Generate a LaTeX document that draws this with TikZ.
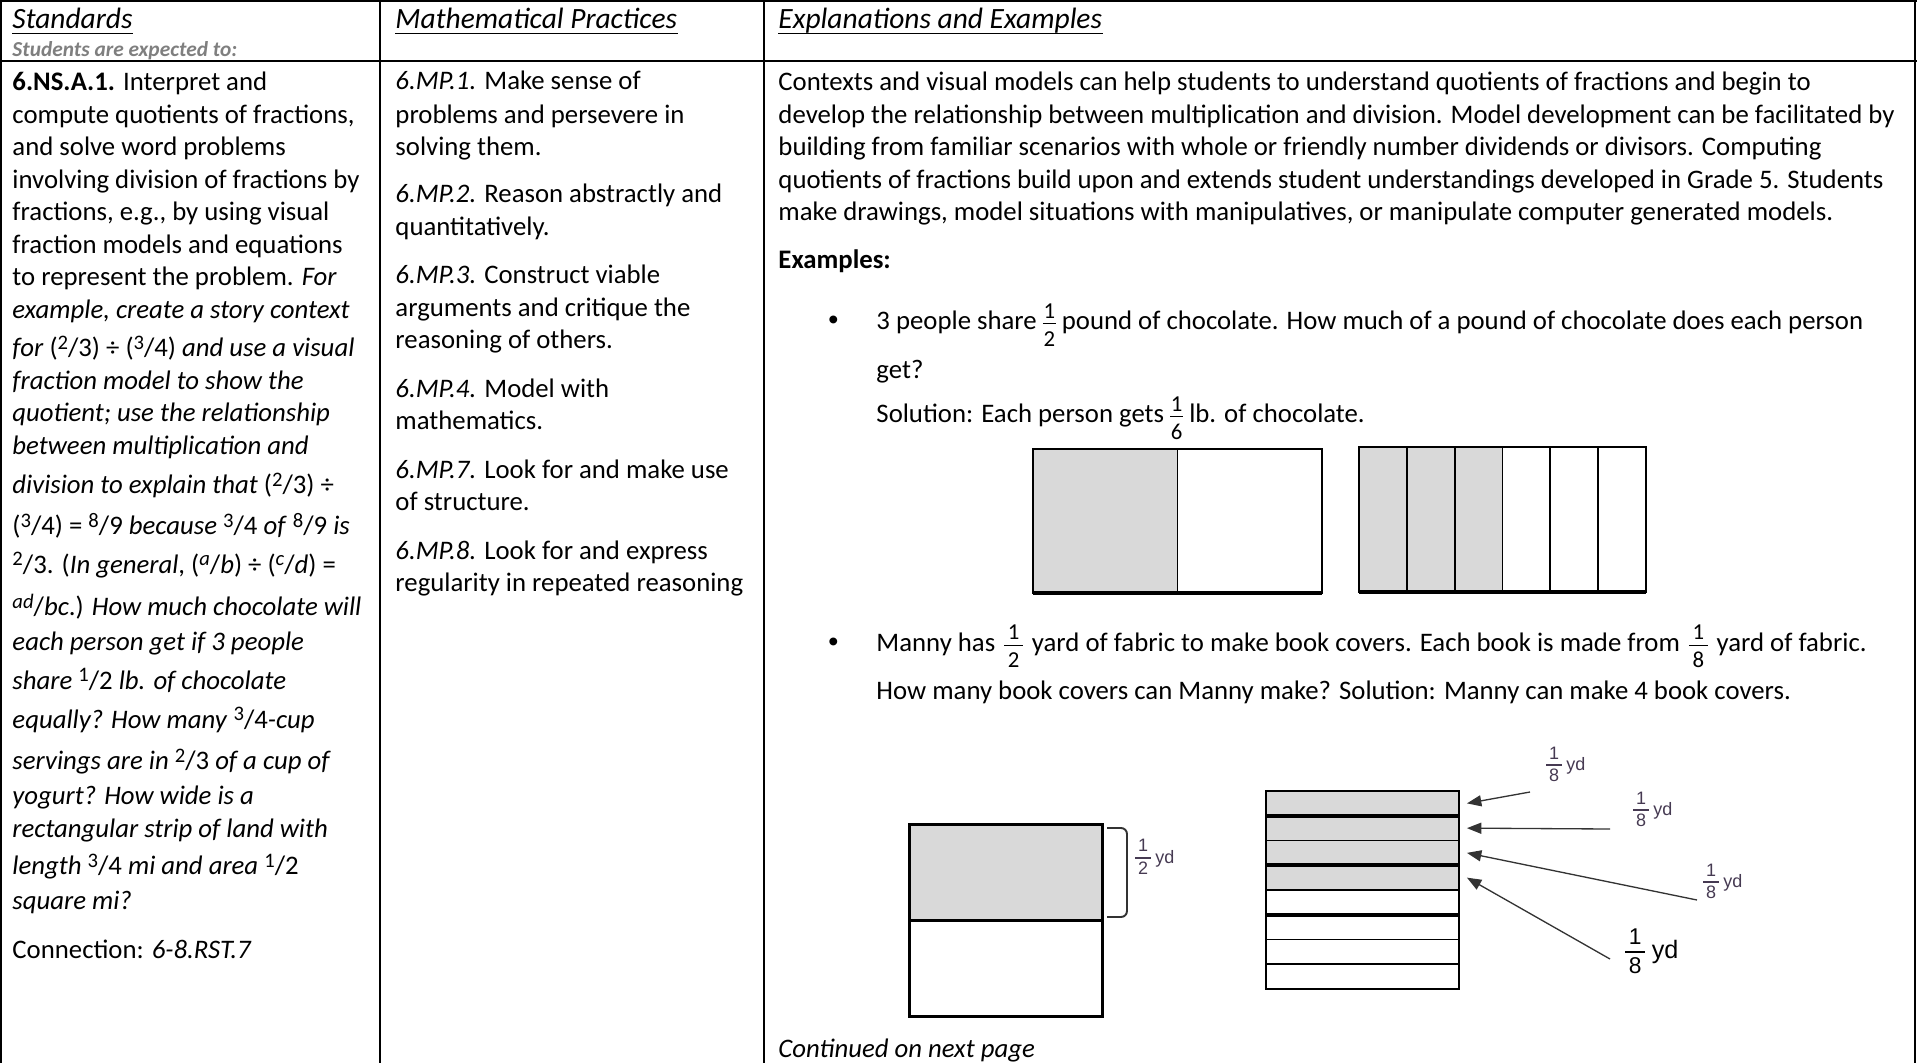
\documentclass[tikz,border=0pt]{standalone}
\usepackage{fontspec}
\usepackage{amsmath}
\usetikzlibrary{arrows.meta,positioning}
\setmainfont{Carlito}
\newfontfamily\lblfont{Liberation Sans}
\newfontfamily\bulfont{Liberation Sans}
\definecolor{shade}{RGB}{217,217,217}
\definecolor{subgray}{RGB}{127,127,127}
\definecolor{lblink}{RGB}{70,58,82}

\newcommand{\body}{\fontsize{11.15}{13.5}\selectfont}
\newcommand{\head}{\fontsize{12.27}{14}\selectfont}
% inline fractions of the standards text
\newcommand{\sups}[1]{\raisebox{3.2pt}{\fontsize{8.6}{8.6}\selectfont #1}}
\newcommand{\fr}[2]{\textup{\sups{#1}/#2}}
\newcommand{\lfr}[2]{\sups{\textit{#1}}/\textit{#2}}
% stacked fraction in the examples
\newcommand{\vf}[3][1pt]{%
  \begingroup\fontsize{9.5}{10}\selectfont
  \setbox0\hbox{#2}\setbox2\hbox{#3}%
  \dimen0=\wd0 \ifdim\wd2>\dimen0 \dimen0=\wd2\fi
  \advance\dimen0 by #1%
  \hbox{\rlap{\raise4.8pt\hbox to\dimen0{\hss\box0\hss}}%
    \rlap{\raise2.3pt\hbox{\vrule width\dimen0 height0.45pt depth0pt}}%
    \lower6.8pt\hbox to\dimen0{\hss\box2\hss}}%
  \endgroup}
% little fraction of the fabric labels
\newcommand{\ydf}[2]{%
  \setbox0\hbox{#1}\setbox2\hbox{#2}%
  \dimen0=\wd2 \advance\dimen0 by 0.3em
  \rlap{\raise0.32em\hbox to\dimen0{\hss\box0\hss}}%
  \rlap{\lower0.05em\hbox{\vrule width\dimen0 height0.1em depth0pt}}%
  \lower0.93em\hbox to\dimen0{\hss\box2\hss}}

\begin{document}
\begin{tikzpicture}[x=0.41667pt, y=-0.41667pt,
  txt/.style={anchor=base west, inner sep=0pt, font=\body},
  hd/.style={anchor=base west, inner sep=0pt, font=\head\itshape},
  bul/.style={anchor=base west, inner sep=0pt, font=\bulfont\fontsize{12}{12}\selectfont},
  rule/.style={line width=0.85pt},
  uline/.style={line width=0.7pt},
  cell/.style={draw, inner sep=0pt, outer sep=0pt, line width=0.45pt},
  ydl/.style={anchor=base west, inner sep=0pt, text=lblink, font=\lblfont\fontsize{7.5}{7.5}\selectfont},
  ptr/.style={-{Triangle[length=6pt,width=4.6pt]}, line width=0.55pt, draw=black!80},
]
\useasboundingbox (0,0) rectangle (1917,1063);

% table rules
\draw[rule] (0,1) -- (1917,1);
\draw[rule] (0,61) -- (1917,61);
\draw[rule] (1,0) -- (1,1063);
\draw[rule] (380,0) -- (380,1063);
\draw[rule] (764,0) -- (764,1063);
\draw[rule] (1915,0) -- (1915,1063);

\begin{scope}[yshift=-0.8pt]
% headings
\node[hd] (hstd) at (12,27) {Standards};
\node[hd] (hmp) at (395,27) {Mathematical Practices};
\node[hd] (hex) at (778,27) {Explanations and Examples};
\foreach \h in {hstd,hmp,hex}
  \draw[uline] ([yshift=-1.9pt]\h.base west) -- ([yshift=-1.9pt]\h.base east);
\node[anchor=base west, inner sep=0pt, text=subgray, font=\fontsize{8.9}{9}\selectfont\bfseries\itshape] (hsub) at (12,55) {Students are expected to:};

% standards column
\node[txt] (st1) at (12,89) {\textbf{6.NS.A.1.} Interpret and};
\node[txt] (st2) at (12,121.5) {compute quotients of fractions,};
\node[txt] (st3) at (12,154) {and solve word problems};
\node[txt] (st4) at (12,186.5) {involving division of fractions by};
\node[txt] (st5) at (12,219) {fractions, e.g., by using visual};
\node[txt] (st6) at (12,251.5) {fraction models and equations};
\node[txt] (st7) at (12,284) {to represent the problem. \textit{For}};
\node[txt] (st8) at (12,316.5) {\textit{example, create a story context}};
\node[txt] (st9) at (12,355) {\textit{for} (\fr{2}{3}) ÷ (\fr{3}{4}) \textit{and use a visual}};
\node[txt] (st10) at (12,388) {\textit{fraction model to show the}};
\node[txt] (st11) at (12,420) {\textit{quotient; use the relationship}};
\node[txt] (st12) at (12,453) {\textit{between multiplication and}};
\node[txt] (st13) at (12,492) {\textit{division to explain that} (\fr{2}{3}) ÷};
\node[txt] (st14) at (12,533) {(\fr{3}{4}) = \fr{8}{9} \textit{because} \fr{3}{4} \textit{of} \fr{8}{9} \textit{is}};
\node[txt] (st15) at (12,571.5) {\fr{2}{3}. (\textit{In general},\/ (\lfr{a}{b}) ÷ (\lfr{c}{d}) =};
\node[txt] (st16) at (12,614) {\lfr{ad}{bc}.) \textit{How much chocolate will}};
\node[txt] (st17) at (12,649) {\textit{each person get if 3 people}};
\node[txt] (st18) at (12,687.5) {\textit{share} \fr{1}{2} \textit{lb. of chocolate}};
\node[txt] (st19) at (12,726.5) {\textit{equally? How many} \fr{3}{4}\textit{-cup}};
\node[txt] (st20) at (12,768) {\textit{servings are in} \fr{2}{3} \textit{of a cup of}};
\node[txt] (st21) at (12,803) {\textit{yogurt? How wide is a}};
\node[txt] (st22) at (12,836) {\textit{rectangular strip of land with}};
\node[txt] (st23) at (12,873) {\textit{length} \fr{3}{4} \textit{mi and area} \fr{1}{2}};
\node[txt] (st24) at (12,908) {\textit{square mi?}};
\node[txt] (st25) at (12,956.5) {Connection: \textit{6-8.RST.7}};

% practices column
\node[txt] (mp1) at (395,88) {\textit{6.MP.1.} Make sense of};
\node[txt] (mp2) at (395,121.5) {problems and persevere in};
\node[txt] (mp3) at (395,154) {solving them.};
\node[txt] (mp4) at (395,201) {\textit{6.MP.2.} Reason abstractly and};
\node[txt] (mp5) at (395,234) {quantitatively.};
\node[txt] (mp6) at (395,282) {\textit{6.MP.3.} Construct viable};
\node[txt] (mp7) at (395,314.5) {arguments and critique the};
\node[txt] (mp8) at (395,347) {reasoning of others.};
\node[txt] (mp9) at (395,395.5) {\textit{6.MP.4.} Model with};
\node[txt] (mp10) at (395,428) {mathematics.};
\node[txt] (mp11) at (395,476.5) {\textit{6.MP.7.} Look for and make use};
\node[txt] (mp12) at (395,509) {of structure.};
\node[txt] (mp13) at (395,557.5) {\textit{6.MP.8.} Look for and express};
\node[txt] (mp14) at (395,590) {regularity in repeated reasoning};

% explanations column
\node[txt] (ex1) at (778,88.5) {Contexts and visual models can help students to understand quotients of fractions and begin to};
\node[txt] (ex2) at (778,121.5) {develop the relationship between multiplication and division. Model development can be facilitated by};
\node[txt] (ex3) at (778,154) {building from familiar scenarios with whole or friendly number dividends or divisors. Computing};
\node[txt] (ex4) at (778,186.5) {quotients of fractions build upon and extends student understandings developed in Grade 5. Students};
\node[txt] (ex5) at (778,219) {make drawings, model situations with manipulatives, or manipulate computer generated models.};
\node[txt] (exh) at (778,266.5) {\textbf{Examples:}};

\node[bul] (b1) at (828,328) {•};
\node[txt] (ch1) at (876,328) {3 people share \vf[0.6pt]{1}{2} pound of chocolate. How much of a pound of chocolate does each person};
\node[txt] (ch2) at (876,377) {get?};
\node[txt] (ch3) at (876,421) {Solution: Each person gets \vf[0.6pt]{1}{6} lb. of chocolate.};

\node[bul] (b2) at (828,649.5) {•};
\node[txt] (fb1) at (876,649.5) {Manny has \kern1.2pt\vf[3pt]{1}{2}\kern1.2pt{} yard of fabric to make book covers. Each book is made from \kern1.2pt\vf[3pt]{1}{8}\kern1.2pt{} yard of fabric.};
\node[txt] (fb2) at (876,697.5) {How many book covers can Manny make? Solution: Manny can make 4 book covers.};

\node[txt] (cont) at (778,1056) {\textit{Continued on next page}};
\end{scope}

% chocolate: halves and sixths
\node[cell, fill=shade, minimum width=60.21pt, minimum height=60pt] (c1) at (1105.25,521) {};
\node[cell, minimum width=60.21pt, minimum height=60pt, right=0pt of c1] (c2) {};
\draw[line width=0.85pt] (c1.north west) rectangle (c2.south east);
\draw[line width=1.7pt] (c1.south west) -- (c2.south east);

\foreach \i in {1,...,6}{
  \ifnum\i<4 \def\fc{shade}\else\def\fc{white}\fi
  \node[cell, fill=\fc, line width=0.7pt, minimum width=19.93pt, minimum height=60.42pt] (d\i) at ({1359+47.83*(\i-0.5)},519.5) {};
}
\draw[line width=0.85pt] (d1.north west) rectangle (d6.south east);
\draw[line width=1.7pt] (d1.south west) -- (d6.south east);

% fabric: one half yard
\node[cell, fill=shade, line width=1.25pt, minimum width=80.42pt, minimum height=40pt] (m1) at (1005.5,872) {};
\node[cell, line width=1.25pt, minimum width=80.42pt, minimum height=40pt, below=0pt of m1] (m2) {};
\draw[line width=0.8pt, draw=black!80, rounded corners=2.5pt]
  ([shift={(5,4)}]m1.north east) -- ++(20,0) -- ++(0,89) -- ++(-20,0);
\node[ydl] (lh) at (1135,857.7) {\ydf{1}{2}\kern0.25em\lower0.33em\hbox{yd}};

% fabric: eighths
\foreach \i in {1,...,8}{
  \ifnum\i<5 \def\fc{shade}\else\def\fc{white}\fi
  \node[cell, fill=\fc, line width=0.7pt, minimum width=80.42pt, minimum height=10.31pt] (s\i) at (1362.5,{791+24.75*(\i-0.5)}) {};
}
\foreach \i in {1,3,5}
  \draw[line width=1.6pt] (s\i.south west) -- (s\i.south east);
\draw[line width=0.85pt] (s1.north west) rectangle (s8.south east);

\node[ydl] (la) at (1546,765) {\ydf{1}{8}\kern0.25em\lower0.33em\hbox{yd}};
\node[ydl] (lb) at (1633,810) {\ydf{1}{8}\kern0.25em\lower0.33em\hbox{yd}};
\node[ydl] (lc) at (1703,882) {\ydf{1}{8}\kern0.25em\lower0.33em\hbox{yd}};
\node[ydl, text=black, font=\lblfont\fontsize{9.5}{9.5}\selectfont] (ld) at (1625,952)
  {\ydf{1}{8}\kern0.3em\lower0.3em\hbox{\fontsize{10.5}{10.5}\selectfont yd}};

\draw[ptr] ([shift={(-16,27)}]la.base west) -- ([xshift=3.3pt]s1.east);
\draw[ptr] ([shift={(-23,19)}]lb.base west) -- ([xshift=3.3pt]s2.east);
\draw[ptr] ([shift={(-6,18)}]lc.base west) -- ([xshift=3.3pt]s3.east);
\draw[ptr] ([shift={(-15,7)}]ld.base west) -- ([xshift=3.3pt]s4.east);
\end{tikzpicture}
\end{document}
